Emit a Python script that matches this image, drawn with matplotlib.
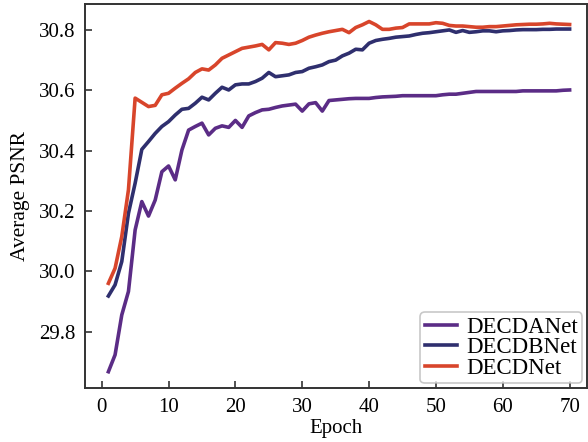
import matplotlib
matplotlib.use("Agg")
import matplotlib.pyplot as plt
import numpy as np

epochs = list(range(1, 71))

decdanet = [29.667, 29.723, 29.855, 29.933, 30.137, 30.231, 30.183, 30.236, 30.330, 30.349,
            30.303, 30.402, 30.468, 30.480, 30.491, 30.452, 30.474, 30.482, 30.477, 30.500,
            30.477, 30.515, 30.526, 30.535, 30.537, 30.543, 30.548, 30.551, 30.554, 30.531,
            30.555, 30.559, 30.531, 30.566, 30.568, 30.570, 30.572, 30.573, 30.573, 30.573,
            30.576, 30.578, 30.579, 30.580, 30.582, 30.582, 30.582, 30.582, 30.582, 30.582,
            30.585, 30.587, 30.587, 30.590, 30.593, 30.596, 30.596, 30.596, 30.596, 30.596,
            30.596, 30.596, 30.598, 30.598, 30.598, 30.598, 30.598, 30.598, 30.600, 30.601]

decdbnet = [29.918, 29.955, 30.032, 30.192, 30.292, 30.404, 30.430, 30.457, 30.480, 30.496,
            30.518, 30.537, 30.540, 30.557, 30.577, 30.568, 30.590, 30.610, 30.601, 30.618,
            30.621, 30.621, 30.629, 30.640, 30.659, 30.645, 30.648, 30.651, 30.659, 30.662,
            30.673, 30.678, 30.684, 30.695, 30.700, 30.714, 30.723, 30.736, 30.734, 30.756,
            30.765, 30.769, 30.772, 30.776, 30.778, 30.780, 30.785, 30.789, 30.791, 30.794,
            30.797, 30.800, 30.792, 30.798, 30.792, 30.794, 30.797, 30.797, 30.794, 30.797,
            30.798, 30.800, 30.801, 30.801, 30.801, 30.802, 30.802, 30.803, 30.803, 30.803]

decdnet = [29.960, 30.010, 30.115, 30.270, 30.574, 30.560, 30.546, 30.550, 30.585, 30.590,
           30.607, 30.623, 30.638, 30.659, 30.671, 30.667, 30.684, 30.706, 30.717, 30.728,
           30.739, 30.743, 30.747, 30.752, 30.734, 30.758, 30.756, 30.752, 30.756, 30.765,
           30.776, 30.783, 30.789, 30.794, 30.798, 30.802, 30.791, 30.808, 30.817, 30.828,
           30.817, 30.802, 30.802, 30.806, 30.808, 30.820, 30.820, 30.820, 30.820, 30.824,
           30.822, 30.815, 30.813, 30.813, 30.811, 30.809, 30.809, 30.811, 30.811, 30.813,
           30.815, 30.817, 30.818, 30.819, 30.819, 30.820, 30.822, 30.820, 30.819, 30.818]

labels = ["DECDANet", "DECDBNet", "DECDNet"]
colors = ["#5B2C86", "#2F2F6E", "#D8452B"]

plt.rcParams['font.family'] = ['Liberation Serif', 'DejaVu Serif']
plt.rcParams['mathtext.fontset'] = 'stix'

fig = plt.figure(figsize=(5.88, 4.42), dpi=100)
ax = fig.add_axes([85/588, 1 - 388/442, (587-85)/588, (388-4)/442])

for y, lab, c in zip([decdanet, decdbnet, decdnet], labels, colors):
    ax.plot(epochs, y, color=c, lw=2.6, label=lab)

ax.set_xlim(-2.5, 72.6)
ax.set_ylim(29.613, 30.886)
ax.set_xticks([0, 10, 20, 30, 40, 50, 60, 70])
ax.set_yticks([29.8, 30.0, 30.2, 30.4, 30.6, 30.8])
ax.set_yticklabels(["29.8", "30.0", "30.2", "30.4", "30.6", "30.8"])
ax.tick_params(direction='in', length=5, width=1.2, labelsize=15, pad=7, color='#333333')
for s in ax.spines.values():
    s.set_linewidth(1.4)
    s.set_color('#333333')

ax.set_xlabel("Epoch", fontsize=15, labelpad=2)
ax.set_ylabel("Average PSNR", fontsize=15.5, labelpad=6)

leg = ax.legend(loc='lower right', fontsize=16.5, frameon=True, fancybox=True,
                handlelength=1.4, handletextpad=0.4, borderpad=0.2, labelspacing=-0.02,
                borderaxespad=0.2, edgecolor='#bbbbbb')
leg.get_frame().set_linewidth(1.2)

fig.savefig("out.png", dpi=100)
